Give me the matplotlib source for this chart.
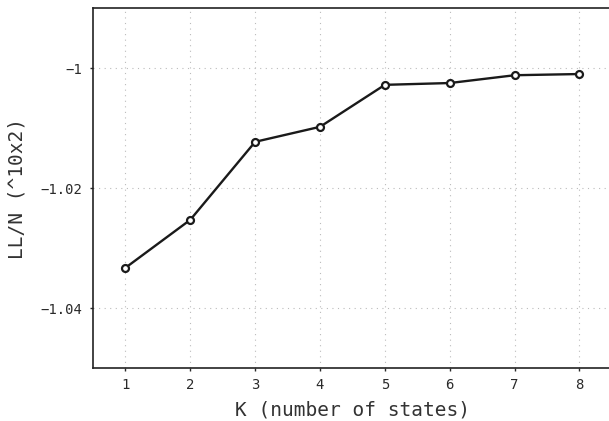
import matplotlib.pyplot as plt

plt.rcParams['font.family'] = ['DejaVu Sans Mono', 'DejaVu Sans']

# model selection curve
k_states = [1, 2, 3, 4, 5, 6, 7, 8]
ll_per_n = [-1.0333, -1.0253, -1.0123, -1.0098, -1.0028, -1.0025, -1.0012, -1.0010]
y_ticks = [-1.04, -1.02, -1.0]
y_tick_labels = ['\u22121.04', '\u22121.02', '\u22121']

fig = plt.figure(figsize=(6.09, 4.21), dpi=100)
ax = fig.add_axes([0.1527, 0.1259, 0.852, 0.855])

ax.plot(k_states, ll_per_n, color='#1a1a1a', linewidth=1.7,
        marker='o', markersize=5, markerfacecolor='white',
        markeredgecolor='#1a1a1a', markeredgewidth=1.6)

ax.set_xlim(0.5, 8.5)
ax.set_ylim(-1.05, -0.99)
ax.set_xticks(k_states)
ax.set_yticks(y_ticks)
ax.set_yticklabels(y_tick_labels)
ax.tick_params(direction='out', length=2.5, width=1, labelsize=10, colors='#2a2a2a', pad=5)

ax.grid(True, linestyle=(0, (1, 4)), color='#bbbbbb', linewidth=0.8)
for side in ['left', 'bottom', 'top']:
    ax.spines[side].set_linewidth(1.2)
    ax.spines[side].set_color('#222222')
ax.spines['right'].set_visible(False)

ax.set_xlabel('K (number of states)', fontsize=14, color='#333333', labelpad=6)
ax.set_ylabel('LL/N (^10x2)', fontsize=14, color='#333333', labelpad=10)

plt.savefig('out.png', dpi=100)
